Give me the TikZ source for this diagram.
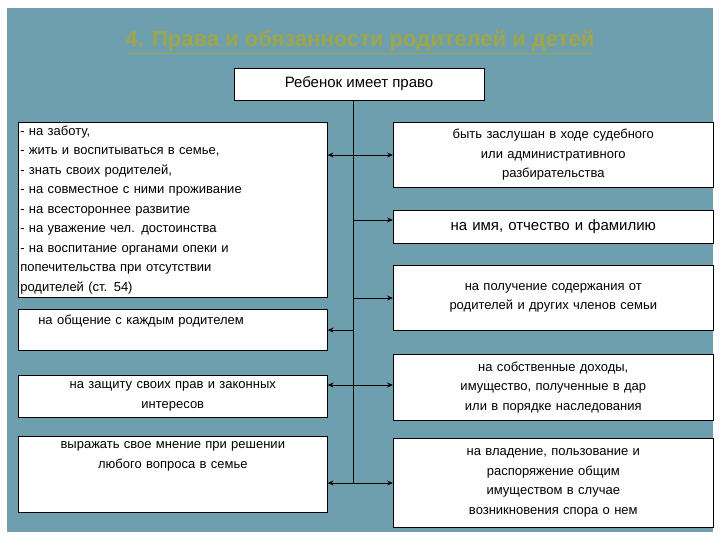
\documentclass[tikz,border=0pt]{standalone}
\usepackage{fontspec}
\setmainfont{Liberation Sans}
\usetikzlibrary{arrows.meta}
\definecolor{bg}{HTML}{6E9FAE}
\definecolor{ttl}{HTML}{9FA64A}
\tikzset{
  bx/.style={draw=black,fill=white,line width=0.6pt,inner sep=1pt,font=\fontsize{13pt}{19.5pt}\selectfont,align=center},
  ln/.style={line width=0.8pt},
  ar/.style={line width=0.8pt,-{Stealth[length=6pt,width=5pt]}},
  dar/.style={line width=0.8pt,{Stealth[length=6pt,width=5pt]}-{Stealth[length=6pt,width=5pt]}}
}
\begin{document}
\begin{tikzpicture}[x=1pt,y=-1pt]
\useasboundingbox (0,0) rectangle (720,540);
\fill[white] (0,0) rectangle (720,540);
\fill[bg] (7,8) rectangle (713,532);
\node[font=\bfseries\fontsize{22pt}{24pt}\selectfont,text=ttl] (t) at (360,42) {\underline{4. Права и обязанности родителей и детей}};
\node[bx,minimum width=250,minimum height=32,font=\fontsize{15pt}{17pt}\selectfont] (top) at (359,84) {Ребенок имеет право};
\node[bx,anchor=north west,minimum width=309,minimum height=175,text width=305,align=left] (l1) at (18,122) {- на заботу,\\- жить и воспитываться в семье,\\- знать своих родителей,\\- на совместное с ними проживание\\- на всестороннее развитие\\- на уважение чел. достоинства\\- на воспитание органами опеки и\\попечительства при отсутствии\\родителей (ст. 54)};
\node[bx,anchor=north west,minimum width=309,minimum height=41,text width=305,align=left] (l2) at (18,309) {\hspace{18pt}на общение с каждым родителем\\\mbox{}};
\node[bx,anchor=north west,minimum width=309,minimum height=42,text width=305] (l3) at (18,375) {на защиту своих прав и законных\\интересов};
\node[bx,anchor=north west,minimum width=309,minimum height=76,text width=305] (l4) at (18,436) {выражать свое мнение при решении\\любого вопроса в семье\\\mbox{}\\\mbox{}};
\node[bx,anchor=north west,minimum width=320,minimum height=65,text width=316] (r1) at (393,122) {быть заслушан в ходе судебного\\или административного\\разбирательства};
\node[bx,anchor=north west,minimum width=320,minimum height=33,text width=316,font=\fontsize{15pt}{17pt}\selectfont] (r2) at (393,210) {на имя, отчество и фамилию};
\node[bx,anchor=north west,minimum width=320,minimum height=65,text width=316] (r3) at (393,265) {на получение содержания от\\родителей и других членов семьи};
\node[bx,anchor=north west,minimum width=320,minimum height=66,text width=316] (r4) at (393,354) {на собственные доходы,\\имущество, полученные в дар\\или в порядке наследования};
\node[bx,anchor=north west,minimum width=320,minimum height=89,text width=316] (r5) at (393,438) {на владение, пользование и\\распоряжение общим\\имуществом в случае\\возникновения спора о нем};
\coordinate (v1) at (353,483);
\draw[ln] (top.south-|v1) -- (v1);
\draw[dar] (l1.east|-0,155) -- (r1.west|-0,155);
\draw[ar] (353,220) -- (r2.west|-0,220);
\draw[ar] (353,298) -- (r3.west|-0,298);
\draw[ar] (353,330) -- (l2.east|-0,330);
\draw[dar] (l3.east|-0,385) -- (r4.west|-0,385);
\draw[dar] (l4.east|-0,483) -- (r5.west|-0,483);
\end{tikzpicture}
\end{document}
